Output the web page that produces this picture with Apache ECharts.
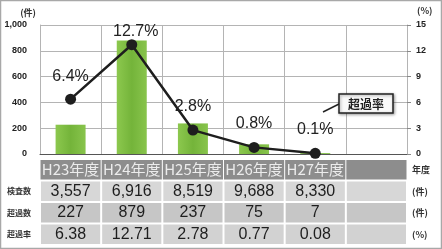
<!DOCTYPE html>
<html>
<head>
    <meta charset="utf-8">
    <title>超過率</title>
    <script src="https://cdn.jsdelivr.net/npm/echarts@6/dist/echarts.min.js"></script>
    <style>
        html, body { margin: 0; padding: 0; background: #fff; }
    </style>
</head>
<body>
    <div id="main" style="width: 442px; height: 249px;"></div>
    <script type="text/javascript">
    // data
    var years = ['H23年度', 'H24年度', 'H25年度', 'H26年度', 'H27年度', ''];
    var inspections = [3557, 6916, 8519, 9688, 8330];
    var exceeded = [227, 879, 237, 75, 7];
    var rates = [6.38, 12.71, 2.78, 0.77, 0.08];
    var rowNames = ['', '検査数', '超過数', '超過率'];
    var rowUnits = ['年度', '(件)', '(件)', '(%)'];
    var labelGap = [9, 0, 10, 10, 10];

    var font = '"Liberation Sans", Arial, sans-serif';
    var cjk = '"Noto Sans CJK JP", sans-serif';

    function fmt(n) {
        return String(n).replace(/\B(?=(\d{3})+(?!\d))/g, ',');
    }

    // table cells built from the arrays
    var cells = [];
    for (var i = 0; i < years.length; i++) {
        cells.push([i, 0, years[i]]);
        cells.push([i, 1, i < inspections.length ? fmt(inspections[i]) : '']);
        cells.push([i, 2, i < exceeded.length ? fmt(exceeded[i]) : '']);
        cells.push([i, 3, i < rates.length ? rates[i].toFixed(2) : '']);
    }
    var rowColors = ['#8d8d8d', '#d7d7d7', '#c6c6c6', '#d2d2d2'];

    var barData = exceeded.concat(['-']);
    var lineData = rates.map(function(v, i) {
        return {
            value: v,
            label: { distance: labelGap[i], formatter: v.toFixed(1) + '%', offset: i === 1 ? [4, 0] : [0, 0] }
        };
    }).concat(['-']);

    var myChart = echarts.init(document.getElementById('main'));
    var option = {
        animation: false,
        textStyle: { fontFamily: font },
        grid: [
            { left: 40, right: 35, top: 25, bottom: 95 },
            { left: 40, right: 35, top: 159, height: 86 }
        ],
        xAxis: [{
            type: 'category',
            gridIndex: 0,
            data: years,
            axisLabel: { show: false },
            axisTick: { show: false },
            axisLine: { lineStyle: { color: '#555', width: 1 } },
            splitLine: { show: true, lineStyle: { color: '#b4b4b4', width: 1 } }
        }, {
            type: 'category',
            gridIndex: 1,
            data: years,
            show: false
        }],
        yAxis: [{
            type: 'value',
            gridIndex: 0,
            min: 0,
            max: 1000,
            interval: 200,
            name: '(件)',
            nameGap: 8,
            nameTextStyle: { color: '#333', fontSize: 9, fontWeight: 'bold', fontFamily: cjk, align: 'right', padding: [0, 4, 0, 0] },
            axisLine: { show: true, lineStyle: { color: '#b4b4b4' } },
            axisTick: { show: false },
            axisLabel: { color: '#222', fontSize: 9, fontWeight: 'bold', margin: 13, formatter: function(v) { return fmt(v); } },
            splitLine: { show: true, lineStyle: { color: '#b4b4b4', width: 1 } }
        }, {
            type: 'value',
            gridIndex: 0,
            position: 'right',
            min: 0,
            max: 15,
            interval: 3,
            name: '(%)',
            nameGap: 10,
            nameTextStyle: { color: '#333', fontSize: 9, fontWeight: 'bold', fontFamily: cjk, align: 'left', padding: [0, 0, 0, 10] },
            axisLine: { show: true, lineStyle: { color: '#b4b4b4' } },
            axisTick: { show: true, length: 4, lineStyle: { color: '#888' } },
            axisLabel: { color: '#222', fontSize: 9, fontWeight: 'bold', margin: 9 },
            splitLine: { show: false }
        }, {
            type: 'category',
            gridIndex: 1,
            inverse: true,
            data: rowNames,
            axisLine: { show: false },
            axisTick: { show: false },
            axisLabel: { color: '#333', fontSize: 8, fontWeight: 'bold', fontFamily: cjk, margin: 9 }
        }, {
            type: 'category',
            gridIndex: 1,
            inverse: true,
            position: 'right',
            data: rowUnits,
            axisLine: { show: false },
            axisTick: { show: false },
            axisLabel: { color: '#333', fontSize: 9, fontWeight: 'bold', fontFamily: cjk, margin: 5 }
        }],
        series: [{
            name: '超過数',
            type: 'bar',
            xAxisIndex: 0,
            yAxisIndex: 0,
            data: barData,
            barWidth: 30,
            itemStyle: {
                color: new echarts.graphic.LinearGradient(0, 0, 1, 0, [
                    { offset: 0, color: '#8cc84e' },
                    { offset: 0.5, color: '#74b43a' },
                    { offset: 1, color: '#88c44c' }
                ])
            }
        }, {
            name: '超過率',
            type: 'line',
            xAxisIndex: 0,
            yAxisIndex: 1,
            data: lineData,
            symbol: 'circle',
            symbolSize: 11,
            lineStyle: { color: '#1e1e1e', width: 2.5 },
            itemStyle: { color: '#1e1e1e' },
            label: {
                show: true,
                position: 'top',
                color: '#222',
                fontSize: 16,
                fontFamily: font
            },
            z: 5
        }, {
            name: 'table',
            type: 'custom',
            xAxisIndex: 1,
            yAxisIndex: 2,
            data: cells,
            renderItem: function(params, api) {
                var c = api.coord([api.value(0), api.value(1)]);
                var s = api.size([1, 1]);
                var row = api.value(1);
                var head = row === 0;
                return {
                    type: 'group',
                    children: [{
                        type: 'rect',
                        shape: { x: c[0] - s[0] / 2 + (head ? 0.5 : 1), y: c[1] - s[1] / 2 + 1, width: s[0] - (head ? 1 : 2), height: s[1] - 2 },
                        style: { fill: rowColors[row] }
                    }, {
                        type: 'text',
                        x: c[0],
                        y: c[1],
                        style: {
                            text: api.value(2),
                            align: 'center',
                            verticalAlign: 'middle',
                            fill: head ? '#ececec' : '#1e1e1e',
                            fontSize: head ? 15 : 16,
                            fontFamily: head ? cjk : font
                        }
                    }]
                };
            }
        }],
        graphic: [{
            type: 'rect',
            shape: { x: 0.5, y: 0.5, width: 441, height: 248 },
            style: { fill: 'none', stroke: '#a8a8a8', lineWidth: 1.5 },
            z: 100
        }, {
            type: 'line',
            shape: { x1: 323, y1: 112, x2: 339, y2: 104 },
            style: { stroke: '#222', lineWidth: 1.5 },
            z: 100
        }, {
            type: 'rect',
            shape: { x: 339, y: 94, width: 54, height: 19 },
            style: { fill: '#fafafa', stroke: '#222', lineWidth: 1.5, shadowBlur: 3, shadowColor: 'rgba(0,0,0,0.35)', shadowOffsetX: 1, shadowOffsetY: 1 },
            z: 100
        }, {
            type: 'text',
            x: 366,
            y: 104,
            style: { text: '超過率', align: 'center', verticalAlign: 'middle', fontSize: 12, fontWeight: 'bold', fontFamily: cjk, fill: '#222' },
            z: 101
        }]
    };
    myChart.setOption(option);
    </script>
</body>
</html>
